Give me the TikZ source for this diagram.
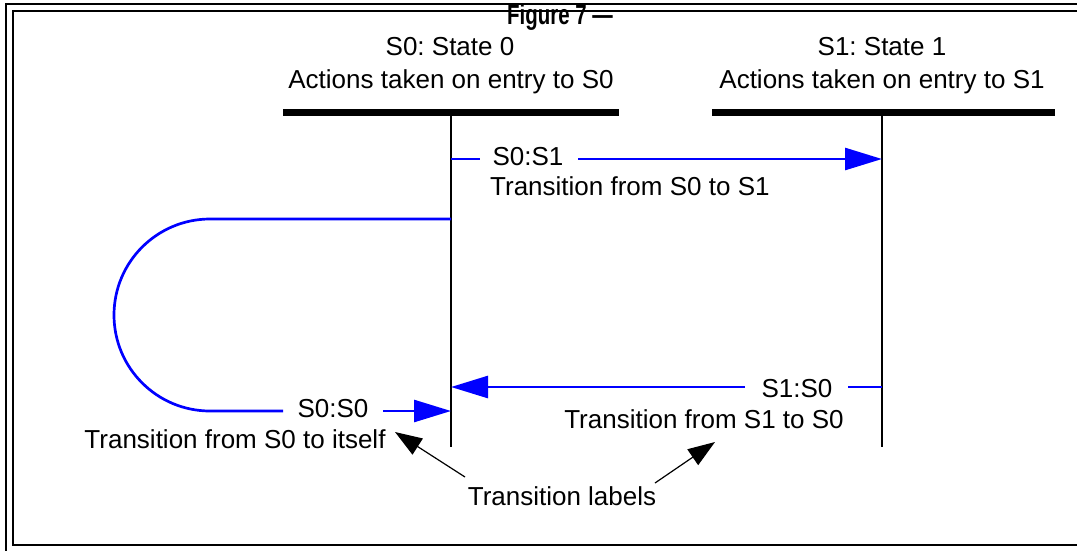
\documentclass[tikz,border=0pt]{standalone}
\usepackage{fontspec}
\setmainfont{Liberation Sans}
\usetikzlibrary{arrows.meta}
\frenchspacing
\begin{document}
\begin{tikzpicture}[x=1pt,y=-1pt,
  txt/.style={font=\fontsize{26}{30}\selectfont, inner sep=0pt, anchor=base},
  frameline/.style={line width=2.2pt},
  lifeline/.style={line width=1.8pt},
  statebar/.style={line width=7pt},
  trans/.style={draw=blue, line width=2.7pt},
  tarrow/.style={trans, -{Triangle[length=37pt,width=22pt]}},
  callout/.style={line width=1.2pt, -{Triangle[length=27pt,width=19pt]}}]
\useasboundingbox (0,0) rectangle (1077,550);
% frame
\draw[frameline] (6,551) -- (6,4) -- (1078,4);
\draw[frameline] (1078,545) -- (13,545) -- (13,11) -- (1078,11);
% title
\node[txt, font=\bfseries\fontsize{28}{32}\selectfont] (title) at (560,24) {\scalebox{0.73}[1]{Figure 7 —}};
% state headings
\node[txt] (s0name) at (450,55) {S0: State 0};
\node[txt] (s0act) at (451,88) {Actions taken on entry to S0};
\node[txt] (s1name) at (882,55) {S1: State 1};
\node[txt] (s1act) at (882,88) {Actions taken on entry to S1};
% state bars and lifelines
\coordinate (b0l) at (283,112); \coordinate (b0r) at (619,112);
\coordinate (b1l) at (712,112); \coordinate (b1r) at (1055,112);
\draw[statebar] (b0l) -- (b0r);
\draw[statebar] (b1l) -- (b1r);
\coordinate (l0top) at (451,112); \coordinate (l0bot) at (451,447);
\coordinate (l1top) at (882,112); \coordinate (l1bot) at (882,447);
\draw[lifeline] (l0top) -- (l0bot);
\draw[lifeline] (l1top) -- (l1bot);
% S0:S1
\coordinate (a01s) at (451,159); \coordinate (a01e) at (882,159);
\coordinate (a01g1) at (480,159); \coordinate (a01g2) at (578,159);
\node[txt] (t01) at (528,165) {S0:S1};
\node[txt, anchor=base west] (d01) at (490,195) {Transition from S0 to S1};
\draw[trans] (a01s) -- (a01g1);
\draw[tarrow] (a01g2) -- (a01e);
% S0:S0 loop
\coordinate (a00s) at (451,219); \coordinate (a00e) at (451,411);
\coordinate (a00g1) at (283,411); \coordinate (a00g2) at (383,411);
\draw[trans] (a00s) -- (210,219) arc[start angle=270, end angle=90, radius=96] -- (a00g1);
\node[txt] (t00) at (333,417) {S0:S0};
\draw[tarrow] (a00g2) -- (a00e);
\node[txt] (d00) at (235,448) {Transition from S0 to itself};
% S1:S0
\coordinate (a10s) at (882,387); \coordinate (a10e) at (451,387);
\coordinate (a10g1) at (848,387); \coordinate (a10g2) at (745,387);
\draw[trans] (a10s) -- (a10g1);
\node[txt] (t10) at (797,397) {S1:S0};
\draw[tarrow] (a10g2) -- (a10e);
\node[txt] (d10) at (704,428) {Transition from S1 to S0};
% transition labels callout
\node[txt] (tl) at (562,505) {Transition labels};
\coordinate (c1s) at (465,477); \coordinate (c1e) at (395,432);
\coordinate (c2s) at (655,483); \coordinate (c2e) at (715,442);
\draw[callout] (c1s) -- (c1e);
\draw[callout] (c2s) -- (c2e);
\end{tikzpicture}
\end{document}
